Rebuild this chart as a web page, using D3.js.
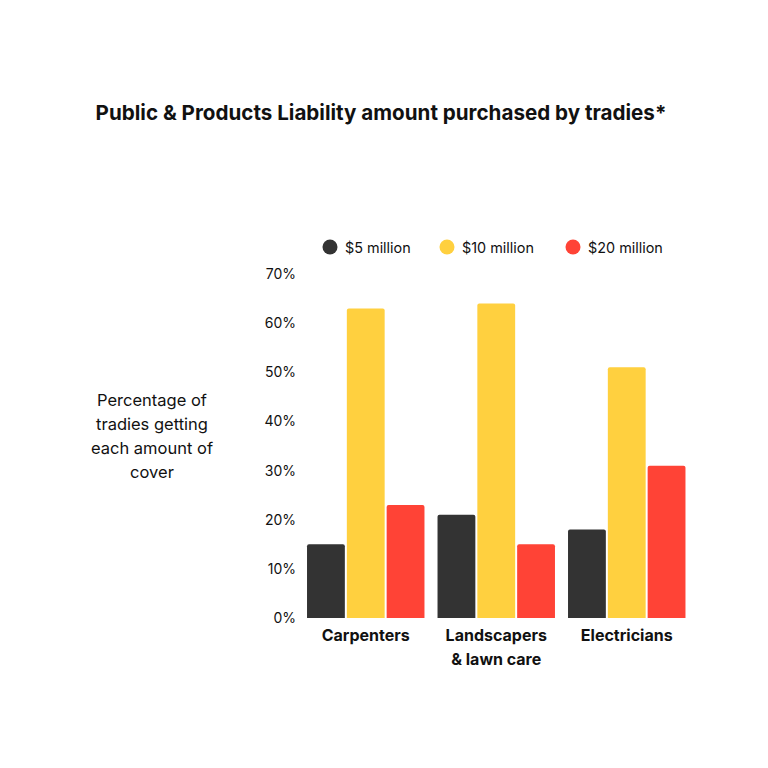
<!DOCTYPE html>
<html>
<head>
<meta charset="utf-8">
<script src="https://cdn.jsdelivr.net/npm/d3@7"></script>
<style>
  body { margin: 0; background: #fff; }
  text { font-family: Inter, "Noto Sans", sans-serif; fill: #111; }
</style>
</head>
<body>
<div id="chart"></div>
<script>
// chart data
const trades = ["Carpenters", "Landscapers\n& lawn care", "Electricians"];
const series = ["$5 million", "$10 million", "$20 million"];
const five = [15, 21, 18];
const ten = [63, 64, 51];
const twenty = [23, 15, 31];
const yTicks = [0, 10, 20, 30, 40, 50, 60, 70];
const colours = ["#333333", "#FFD03F", "#FF4336"];

const W = 768, H = 768;
const svg = d3.select("#chart").append("svg")
    .attr("width", W).attr("height", H);

let rows = trades.map(function(t, i) {
  return { trade: t, values: [five[i], ten[i], twenty[i]] };
});

let x0 = d3.scaleBand().domain(trades).range([300.5, 692]).paddingInner(0.1).paddingOuter(0.05);
let x1 = d3.scaleBand().domain(series).range([0, x0.bandwidth()]).paddingInner(0.05);
let y = d3.scaleLinear().domain([0, 70]).range([618, 274]);

// title
svg.append("text")
  .attr("x", 381).attr("y", 120)
  .style("text-anchor", "middle")
  .style("font-size", "20.6px")
  .style("font-weight", "700")
  .text("Public & Products Liability amount purchased by tradies*");

// y axis labels
let yAxis = d3.axisLeft(y).tickValues(yTicks).tickFormat(d => d + "%").tickSize(0).tickPadding(0);
let yg = svg.append("g").attr("transform", "translate(296,0)").call(yAxis);
yg.select(".domain").remove();
yg.selectAll("text").style("font-size", "14px").style("font-family", "Inter, sans-serif").attr("fill", "#111");

// y title
let ylab = ["Percentage of", "tradies getting", "each amount of", "cover"];
svg.append("text")
  .attr("x", 152).attr("y", 406)
  .style("text-anchor", "middle")
  .style("font-size", "16.5px")
  .selectAll("tspan").data(ylab).enter().append("tspan")
  .attr("x", 152).attr("dy", (d, i) => i == 0 ? 0 : 24)
  .text(d => d);

// bars
let groups = svg.selectAll(".grp").data(rows).enter().append("g")
  .attr("transform", d => "translate(" + x0(d.trade) + ",0)");
groups.selectAll("rect")
  .data(d => d.values.map((v, j) => ({ key: series[j], value: v, c: colours[j] })))
  .enter().append("path")
  .attr("fill", d => d.c)
  .attr("d", function(d) {
    let x = x1(d.key), w = x1.bandwidth(), t = y(d.value), b = y(0), r = 2;
    return "M" + x + "," + b + "V" + (t + r) + "Q" + x + "," + t + " " + (x + r) + "," + t +
      "H" + (x + w - r) + "Q" + (x + w) + "," + t + " " + (x + w) + "," + (t + r) + "V" + b + "Z";
  });

// category labels
let xAxis = d3.axisBottom(x0).tickSize(0).tickPadding(0);
let xg = svg.append("g").attr("transform", "translate(0,618)").call(xAxis);
xg.select(".domain").remove();
xg.selectAll("text").remove();
xg.selectAll(".tick").append("text")
  .attr("y", 23)
  .style("text-anchor", "middle")
  .style("font-size", "16px")
  .style("font-weight", "700")
  .attr("fill", "#111")
  .selectAll("tspan").data(d => d.split("\n")).enter().append("tspan")
  .attr("x", 0).attr("dy", (d, i) => i == 0 ? 0 : 24)
  .text(d => d);

// legend
let legendX = [330, 447, 573];
let lg = svg.selectAll(".lg").data(series).enter().append("g")
  .attr("transform", (d, i) => "translate(" + legendX[i] + ",247)");
lg.append("circle").attr("r", 7.5).attr("fill", (d, i) => colours[i]);
lg.append("text").attr("x", 15).attr("y", 5.5)
  .style("font-size", "14.4px")
  .text(d => d);
</script>
</body>
</html>
